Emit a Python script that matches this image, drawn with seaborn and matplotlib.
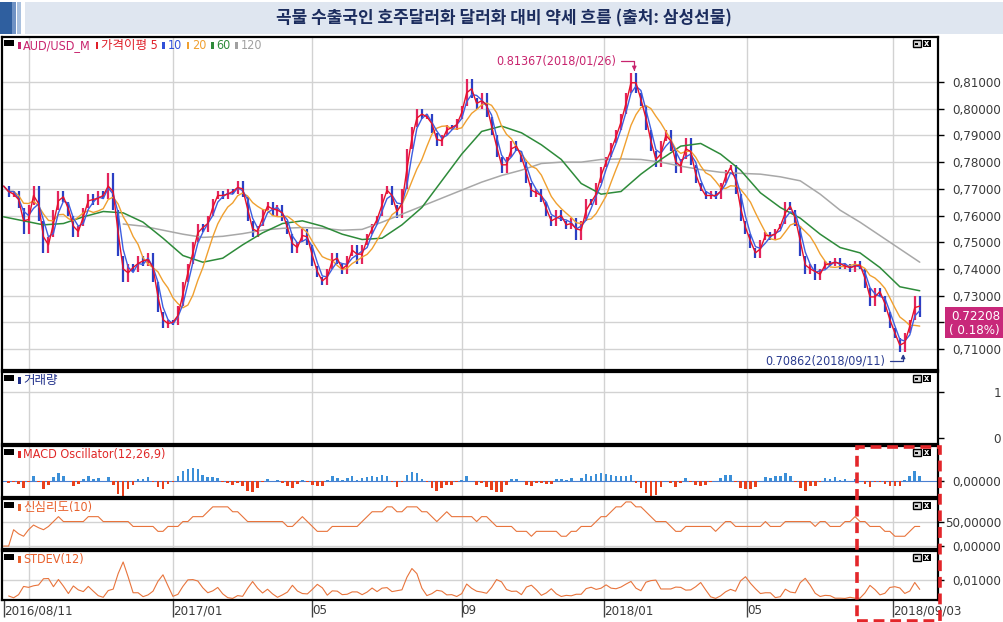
import numpy as np
import pandas as pd
import matplotlib
matplotlib.use("Agg")
import matplotlib.pyplot as plt
import seaborn as sns
from matplotlib import font_manager as fm
from matplotlib.patches import Rectangle

# ---------------- data ----------------
title = "곡물 수출국인 호주달러화 달러화 대비 약세 흐름 (출처: 삼성선물)"

# AUD/USD closes, one value every 3 trading days from 2016/08/11
close = [
    0.771, 0.767, 0.769, 0.763, 0.753, 0.764, 0.771, 0.758, 0.746, 0.752,
    0.762, 0.769, 0.765, 0.760, 0.752, 0.756, 0.763, 0.768, 0.764, 0.769,
    0.766, 0.776, 0.762, 0.745, 0.735, 0.742, 0.739, 0.745, 0.741, 0.746,
    0.735, 0.724, 0.718, 0.721, 0.719, 0.726, 0.735, 0.742, 0.750, 0.757,
    0.754, 0.760, 0.766, 0.769, 0.766, 0.770, 0.768, 0.773, 0.767, 0.758,
    0.752, 0.756, 0.762, 0.765, 0.760, 0.764, 0.758, 0.753, 0.746, 0.750,
    0.755, 0.749, 0.741, 0.737, 0.734, 0.740, 0.746, 0.742, 0.738, 0.745,
    0.749, 0.742, 0.749, 0.753, 0.757, 0.760, 0.768, 0.771, 0.764, 0.759,
    0.770, 0.785, 0.793, 0.800, 0.796, 0.798, 0.791, 0.786, 0.790, 0.794,
    0.792, 0.796, 0.801, 0.811, 0.804, 0.800, 0.806, 0.797, 0.790, 0.782,
    0.776, 0.782, 0.788, 0.784, 0.780, 0.772, 0.767, 0.770, 0.765, 0.760,
    0.756, 0.762, 0.758, 0.755, 0.759, 0.751, 0.758, 0.766, 0.764, 0.772,
    0.778, 0.782, 0.787, 0.792, 0.798, 0.806, 0.8135, 0.806, 0.801, 0.792,
    0.784, 0.778, 0.788, 0.792, 0.784, 0.776, 0.781, 0.789, 0.779, 0.772,
    0.769, 0.766, 0.769, 0.766, 0.772, 0.777, 0.779, 0.768, 0.758, 0.753,
    0.748, 0.744, 0.751, 0.754, 0.751, 0.755, 0.757, 0.765, 0.762, 0.756,
    0.745, 0.738, 0.742, 0.736, 0.740, 0.743, 0.741, 0.744, 0.740, 0.742,
    0.739, 0.743, 0.740, 0.733, 0.726, 0.733, 0.730, 0.724, 0.718, 0.714,
    0.7088, 0.716, 0.721, 0.730, 0.72208,
]
# 60- and 120-day moving averages, read every 12 trading days
ma60 = [
    0.7595, 0.7580, 0.7565, 0.7570, 0.7595, 0.7615, 0.7610, 0.7575, 0.7515, 0.7450,
    0.7425, 0.7440, 0.7490, 0.7535, 0.7570, 0.7580, 0.7560, 0.7530, 0.7510, 0.7515,
    0.7565, 0.7630, 0.7730, 0.7830, 0.7915, 0.7935, 0.7910, 0.7865, 0.7810, 0.7720,
    0.7680, 0.7690, 0.7755, 0.7810, 0.7860, 0.7870, 0.7830, 0.7770, 0.7685, 0.7630,
    0.7590, 0.7530, 0.7480, 0.7460, 0.7405, 0.7333, 0.7318,
]
ma120 = [
    np.nan, np.nan, np.nan, np.nan, np.nan, np.nan, 0.7568, 0.7560, 0.7545, 0.7530,
    0.7518, 0.7522, 0.7532, 0.7545, 0.7552, 0.7555, 0.7552, 0.7545, 0.7548, 0.7575,
    0.7605, 0.7635, 0.7665, 0.7695, 0.7725, 0.7750, 0.7770, 0.7795, 0.7800, 0.7800,
    0.7810, 0.7812, 0.7810, 0.7800, 0.7785, 0.7772, 0.7762, 0.7758, 0.7755, 0.7745,
    0.7730, 0.7680, 0.7620, 0.7575, 0.7525, 0.7475, 0.7425,
]
STEP = 3          # trading days per close value
MA_STEP = 12      # trading days per ma60/ma120 value
ma_windows = {"5": 2, "10": 3, "20": 7}   # short MAs in units of STEP

tick_days = [0, 102, 186, 276, 362, 448, 536]
tick_labels = ["2016/08/11", "2017/01", "05", "09", "2018/01", "05", "2018/09/03"]
grid_days = [15, 102, 186, 276, 362, 448, 536]
price_ticks = [0.71, 0.72, 0.73, 0.74, 0.75, 0.76, 0.77, 0.78, 0.79, 0.80, 0.81]

high_text, high_day, high_val = "0.81367(2018/01/26)", 380, 0.81367
low_text, low_day, low_val = "0.70862(2018/09/11)", 542, 0.70862
last_pct = "( 0.18%)"

legend_items = [("AUD/USD_M", "#c8246e"), ("가격이평 5", "#e0202a"), ("10", "#3050d8"),
                ("20", "#f0a030"), ("60", "#2e8b3a"), ("120", "#a0a0a0")]

# ---------------- style ----------------
sns.set_theme(style="white")
names = {f.name for f in fm.fontManager.ttflist}
latin = "Liberation Sans Narrow" if "Liberation Sans Narrow" in names else "DejaVu Sans"
plt.rcParams["font.family"] = [latin, "Noto Sans CJK KR", "DejaVu Sans"]
if latin == "DejaVu Sans":
    plt.rcParams["font.stretch"] = "condensed"
plt.rcParams["axes.unicode_minus"] = False

W, H = 1004, 622
fig = plt.figure(figsize=(W / 100, H / 100), dpi=100)
fig.patch.set_facecolor("white")


def rect(x0, y0, x1, y1):
    return [x0 / W, 1 - y1 / H, (x1 - x0) / W, (y1 - y0) / H]


def frect(x0, y0, x1, y1, **kw):
    fig.add_artist(Rectangle((x0 / W, 1 - y1 / H), (x1 - x0) / W, (y1 - y0) / H,
                             transform=fig.transFigure, **kw))


# title bar
frect(0, 2, 12, 34, color="#2f5f9f", lw=0)
frect(12, 2, 16, 34, color="#6f92c4", lw=0)
frect(17, 2, 21, 34, color="#a9c0de", lw=0)
frect(25, 2, 1004, 34, color="#dfe6f0", lw=0)
fig.text(504 / W, 1 - 18 / H, title, ha="center", va="center", fontsize=12.2,
         fontweight="bold", color="#1c2d5e", family=["Noto Sans CJK KR"])

ax = fig.add_axes(rect(2, 37, 938, 370))
axv = fig.add_axes(rect(2, 372, 938, 444), sharex=ax)
axm = fig.add_axes(rect(2, 446, 938, 497), sharex=ax)
axp = fig.add_axes(rect(2, 499, 938, 549), sharex=ax)
axs = fig.add_axes(rect(2, 551, 938, 600), sharex=ax)
panels = [ax, axv, axm, axp, axs]

s = pd.Series(close)
days = np.arange(len(close)) * STEP
ma_days = np.arange(len(ma60)) * MA_STEP

for a in panels:
    a.set_facecolor("white")
    for sp in a.spines.values():
        sp.set_color("black")
        sp.set_linewidth(1.6)
    for d in grid_days:
        a.axvline(d, color="#d2d2d2", lw=1, zorder=0)
    a.tick_params(axis="x", bottom=False, labelbottom=False)
    a.tick_params(axis="y", left=False, labelleft=False, right=True, labelright=True,
                  direction="out", length=4, width=1, color="black",
                  labelsize=9.5, labelcolor="#3a3a3a", pad=41.5)
    a.set_xlim(-1, 563)

# ---- main price panel ----
for p in price_ticks:
    ax.axhline(p, color="#d2d2d2", lw=1, zorder=0)
opens = s.shift(1).fillna(s.iloc[0])
up = s >= opens
lo = np.minimum(opens, s)
hi = np.maximum(opens, s)
ax.vlines(days[up.values], lo[up.values], hi[up.values], color="#e3245c", lw=1.6, zorder=2)
ax.vlines(days[~up.values], lo[~up.values], hi[~up.values], color="#2b3fc4", lw=1.6, zorder=2)

ma_colors = {"5": "#e8102a", "10": "#3d5ee0", "20": "#f0a030"}
sns.lineplot(x=ma_days, y=ma120, ax=ax, color="#a8a8a8", lw=1.1, zorder=3)
sns.lineplot(x=ma_days, y=ma60, ax=ax, color="#2e8b3a", lw=1.1, zorder=3)
for k in ["20", "10", "5"]:
    sns.lineplot(x=days, y=s.rolling(ma_windows[k], min_periods=1).mean().values, ax=ax,
                 color=ma_colors[k], lw=1.0, zorder=4)

ax.set_ylim(0.7021, 0.8269)
ax.set_yticks(price_ticks)
ax.set_yticklabels(["" if abs(p - 0.72) < 1e-9 else f"{p:.5f}".replace(".", ",")
                    for p in price_ticks])

arrow_kw = dict(arrowstyle="-|>", lw=0.9, shrinkA=1, shrinkB=1, mutation_scale=6,
                relpos=(1.0, 0.5), connectionstyle="angle,angleA=0,angleB=90,rad=0")
ax.annotate(high_text, xy=(high_day, high_val), xytext=(-18, 11), textcoords="offset pixels",
            ha="right", va="center", fontsize=9, color="#c8246e",
            arrowprops=dict(color="#c8246e", **arrow_kw))
ax.annotate(low_text, xy=(low_day, low_val), xytext=(-18, -8), textcoords="offset pixels",
            ha="right", va="center", fontsize=9, color="#2a3b8f",
            arrowprops=dict(color="#2a3b8f", **arrow_kw))

# ---- volume panel (empty) ----
axv.axhline(1, color="#d2d2d2", lw=1, zorder=0)
axv.set_ylim(-0.13, 1.43)
axv.set_yticks([0, 1])
axv.set_yticklabels(["0", "1"])

# ---- MACD oscillator ----
macd = s.ewm(span=4, adjust=False).mean() - s.ewm(span=9, adjust=False).mean()
osc = (macd - macd.ewm(span=3, adjust=False).mean()).values
axm.bar(days, osc, width=1.6, color=np.where(osc >= 0, "#3b8fd8", "#e8401c"), lw=0, zorder=2)
axm.axhline(0, color="#4a7fd0", lw=0.8, zorder=1)
m = np.nanmax(np.abs(osc))
axm.set_ylim(-m * 1.02, m * 35 / 15)
axm.set_yticks([0])
axm.set_yticklabels(["0,00000"])

# ---- psychological line ----
psy = (s.diff() > 0).astype(float).rolling(10, min_periods=1).mean() * 100
for g in [0, 50]:
    axp.axhline(g, color="#d2d2d2", lw=1, zorder=0)
sns.lineplot(x=days, y=psy.values, ax=axp, color="#e8743c", lw=0.8)
axp.set_ylim(-6, 96)
axp.set_yticks([0, 50])
axp.set_yticklabels(["0,00000", "50,00000"])

# ---- STDEV ----
sd = s.rolling(4, min_periods=2).std()
axs.axhline(0.01, color="#d2d2d2", lw=1, zorder=0)
sns.lineplot(x=days, y=sd.values, ax=axs, color="#e8743c", lw=0.8)
axs.set_ylim(0.001, 0.0231)
axs.set_yticks([0.01])
axs.set_yticklabels(["0,01000"])
axs.set_xticks(tick_days)
axs.set_xticklabels(tick_labels)
axs.tick_params(axis="x", bottom=True, labelbottom=True, direction="out", length=12,
                width=1, color="#444444", labelsize=9.5, labelcolor="#3a3a3a", pad=-9)
for lab in axs.get_xticklabels():
    lab.set_ha("left")

for a in panels:
    a.set_xlabel("")
    a.set_ylabel("")
    a.set_xlim(-1, 563)
    for lab in a.get_yticklabels():
        lab.set_ha("right")

# ---- panel headers ----
renderer = fig.canvas.get_renderer()


def header(top, items):
    frect(4, top + 3, 14, top + 9, color="black", lw=0)
    x = 18
    for lab, col in items:
        frect(x, top + 5, x + 2.5, top + 12, color=col, lw=0)
        t = fig.text((x + 5) / W, 1 - (top + 8.5) / H, lab, color=col, fontsize=9,
                     ha="left", va="center")
        x = t.get_window_extent(renderer=renderer).x1 + 5
    frect(913, top + 3, 921, top + 10, facecolor="#d8d8d8", edgecolor="black", lw=1)
    frect(915.5, top + 5.5, 918.5, top + 7.5, color="black", lw=0)
    frect(923, top + 3, 931, top + 10, color="black", lw=0)
    fig.text(927 / W, 1 - (top + 6.6) / H, "x", color="white", fontsize=6.5,
             ha="center", va="center", fontweight="bold")


header(37, legend_items)
header(372, [("거래량", "#1f2f8a")])
header(446, [("MACD Oscillator(12,26,9)", "#e02828")])
header(499, [("신심리도(10)", "#e8602c")])
header(551, [("STDEV(12)", "#e8602c")])

# ---- last price box ----
yd = ax.transData.transform((0, close[-1]))[1]
fig.add_artist(Rectangle((945 / W, (yd - 21) / H), 59 / W, 31 / H, transform=fig.transFigure,
                         color="#c8287a", lw=0))
fig.text(1000 / W, yd / H, f"{close[-1]:.5f}", color="white", fontsize=9.5,
         ha="right", va="center")
fig.text(1000 / W, (yd - 14) / H, last_pct, color="white", fontsize=9.5,
         ha="right", va="center")

# ---- red dashed highlight ----
fig.add_artist(Rectangle((857 / W, 1 - 621 / H), 83 / W, 174 / H, transform=fig.transFigure,
                         fill=False, edgecolor="#e3262a", lw=2.6, linestyle=(0, (3, 1.6))))

fig.savefig("out.png", dpi=100, facecolor="white")
